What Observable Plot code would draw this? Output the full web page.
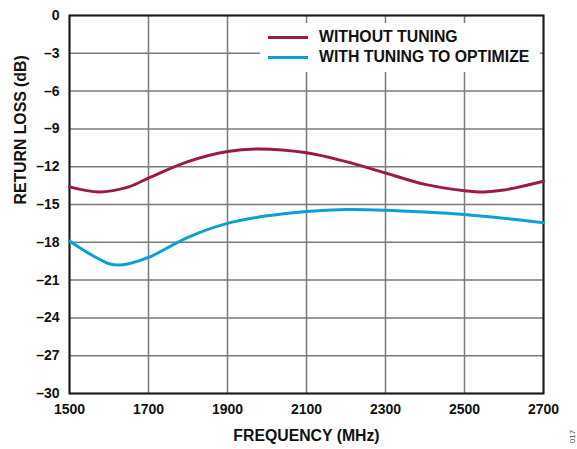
<!DOCTYPE html>
<html>
<head>
<meta charset="utf-8">
<script src="https://cdn.jsdelivr.net/npm/d3@7"></script>
<script src="https://cdn.jsdelivr.net/npm/@observablehq/plot@0.6"></script>
<style>
  html, body { margin: 0; padding: 0; background: #fff; }
  #wrap { position: relative; width: 577px; height: 449px; font-family: "Liberation Sans", Arial, sans-serif; }
  #legend { position: absolute; left: 260px; top: 23px; width: 280px; height: 49px; background: #fff; }
  .row { position: absolute; left: 8px; height: 20px; display: flex; align-items: center; font-weight: bold; font-size: 15.8px; color: #111; }
  .swatch { width: 40px; height: 3px; margin-right: 11px; }
  #code { position: absolute; left: 566px; top: 432px; font-size: 8px; color: #555; transform: rotate(-90deg); transform-origin: center; }
</style>
</head>
<body>
<div id="wrap"></div>
<script>
// Return loss vs frequency, measured with and without antenna tuning
const seriesNames = ["WITHOUT TUNING", "WITH TUNING TO OPTIMIZE"];
const seriesColors = ["#9c1a48", "#0aa0d6"];

const withoutFreq = [1500, 1575, 1650, 1700, 1800, 1900, 1980, 2100, 2200, 2300, 2400, 2500, 2550, 2600, 2700];
const withoutLoss = [-13.6, -14.0, -13.6, -12.9, -11.6, -10.8, -10.6, -10.9, -11.6, -12.5, -13.4, -13.9, -14.0, -13.85, -13.15];

const withFreq = [1500, 1550, 1600, 1625, 1650, 1700, 1800, 1900, 2000, 2100, 2200, 2300, 2400, 2500, 2600, 2700];
const withLoss = [-17.9, -18.9, -19.7, -19.8, -19.7, -19.2, -17.6, -16.5, -15.9, -15.55, -15.4, -15.45, -15.6, -15.8, -16.1, -16.45];

const xTicks = [1500, 1700, 1900, 2100, 2300, 2500, 2700];
const yTicks = [0, -3, -6, -9, -12, -15, -18, -21, -24, -27, -30];
const xTitle = "FREQUENCY (MHz)";
const yTitle = "RETURN LOSS (dB)";

const rows = [
  ...withoutFreq.map((f, i) => ({ series: seriesNames[0], freq: f, loss: withoutLoss[i] })),
  ...withFreq.map((f, i) => ({ series: seriesNames[1], freq: f, loss: withLoss[i] }))
];

const fmtY = d => d < 0 ? "\u2013" + Math.abs(d) : String(d);

const chart = Plot.plot({
  width: 577,
  height: 449,
  marginLeft: 69,
  marginRight: 34,
  marginTop: 15,
  marginBottom: 56,
  style: { fontFamily: "'Liberation Sans', Arial, sans-serif", fontSize: "14px", fontWeight: "bold", color: "#111", background: "#fff" },
  x: { domain: [1500, 2700] },
  y: { domain: [-30, 0] },
  color: { domain: seriesNames, range: seriesColors },
  marks: [
    Plot.gridX(xTicks, { stroke: "#7a7a7a", strokeOpacity: 1, strokeWidth: 1.5 }),
    Plot.gridY(yTicks, { stroke: "#7a7a7a", strokeOpacity: 1, strokeWidth: 1.5 }),
    Plot.frame({ stroke: "#1a1a1a", strokeWidth: 2 }),
    Plot.axisX({ ticks: xTicks, tickSize: 0, tickPadding: 11, tickFormat: d => String(d), label: null }),
    Plot.axisY({ ticks: yTicks, tickSize: 0, tickPadding: 10, tickFormat: fmtY, label: null }),
    Plot.text([xTitle], { frameAnchor: "bottom", dy: 47, fontSize: 15.8, fill: "#111" }),
    Plot.text([yTitle], { frameAnchor: "left", rotate: -90, dx: -49, fontSize: 15.8, fill: "#111" }),
    Plot.line(rows, { x: "freq", y: "loss", z: "series", stroke: "series", strokeWidth: 3, curve: "catmull-rom" })
  ]
});

const wrap = document.getElementById("wrap");
wrap.appendChild(chart);

const legend = document.createElement("div");
legend.id = "legend";
seriesNames.forEach((name, i) => {
  const row = document.createElement("div");
  row.className = "row";
  row.style.top = (4 + i * 20) + "px";
  const sw = document.createElement("span");
  sw.className = "swatch";
  sw.style.background = seriesColors[i];
  row.appendChild(sw);
  row.appendChild(document.createTextNode(name));
  legend.appendChild(row);
});
wrap.appendChild(legend);

const code = document.createElement("div");
code.id = "code";
code.textContent = "017";
wrap.appendChild(code);
</script>
</body>
</html>
